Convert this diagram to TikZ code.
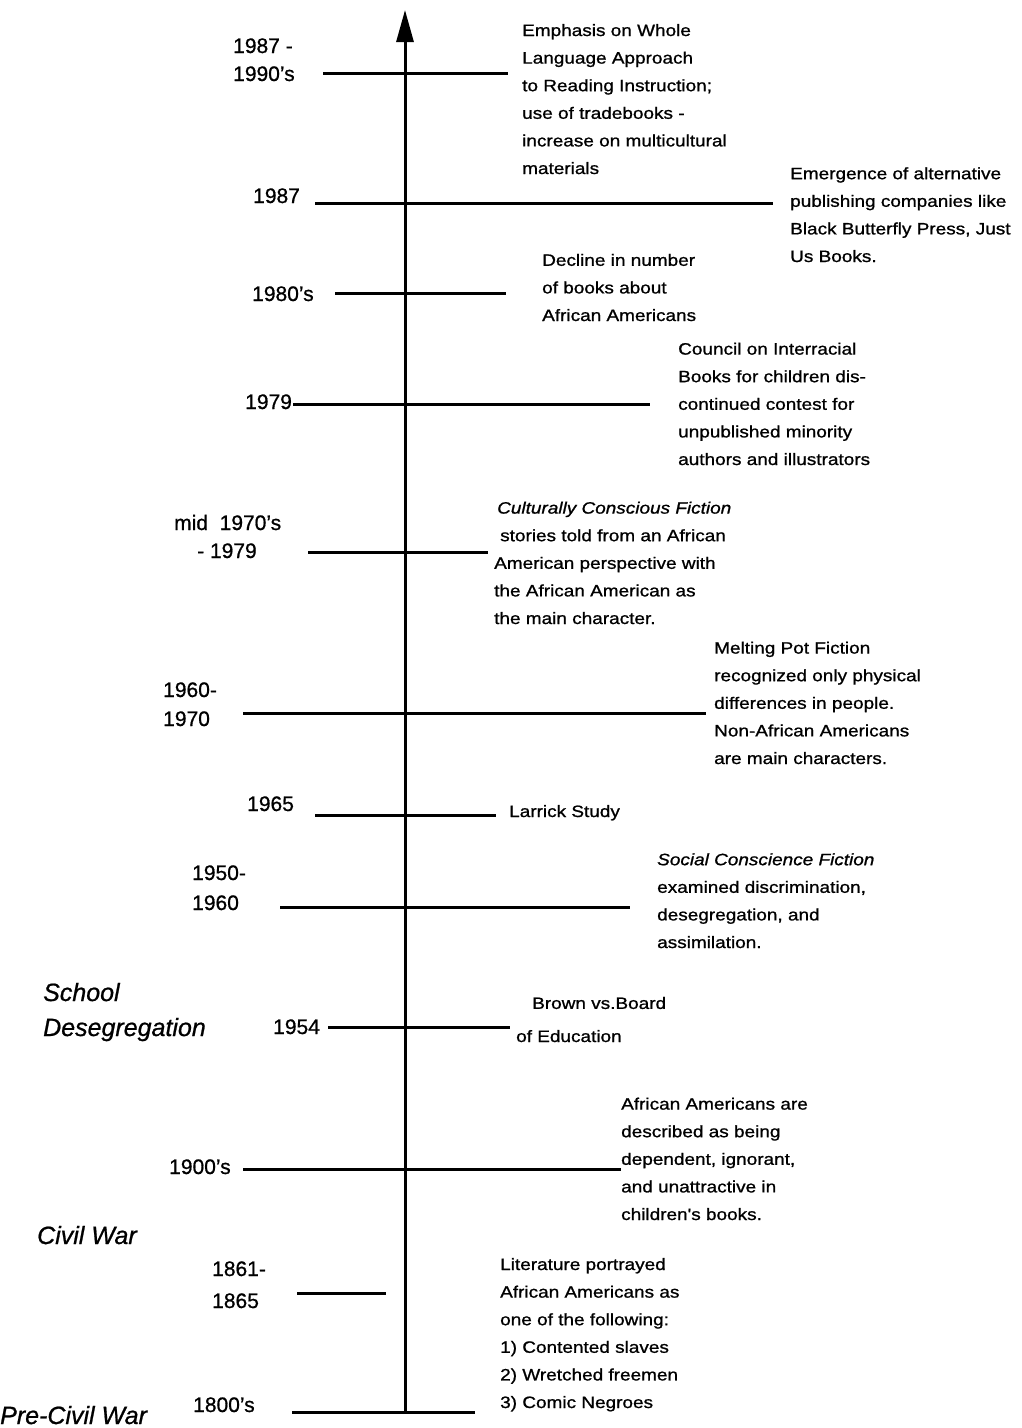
\documentclass[tikz,border=0pt]{standalone}
\usepackage{fontspec}
\setmainfont[FakeBold=0.8]{Liberation Sans}
\newfontfamily\descfam[FakeStretch=1.15, FakeBold=1]{Liberation Sans}
\usetikzlibrary{arrows.meta}

\begin{document}
\begin{tikzpicture}[x=1pt, y=-1pt,
		year/.style={anchor=base west, inner sep=0, align=left, font=\fontsize{21}{28}\selectfont},
		desc/.style={anchor=base west, inner sep=0, align=left, font=\descfam\fontsize{16.5}{27.6}\selectfont},
		era/.style={anchor=base west, inner sep=0, align=left, font=\fontsize{25}{35}\selectfont\itshape},
		tick/.style={-, line width=3}]
			% multi-line nodes sit on the baseline of their last line
			\useasboundingbox (0, 0) rectangle (1022, 1428);

			% axis
			\draw[line width=3, -{Triangle[length=32, width=17]}]
				(405, 1412) -- (405, 10);

			% 1987 - 1990's
			\node[year] (y1990) at (233, 81)
				{1987 -\\1990's};
			\draw[tick]
				(323, 73) -- (508, 73);
			\node[desc] (d1990) at (522, 174)
				{Emphasis on Whole\\Language Approach\\to Reading Instruction;\\use of tradebooks -\\increase on multicultural\\materials};

			% 1987
			\node[year] (y1987) at (253, 203)
				{1987};
			\draw[tick]
				(315, 203) -- (773, 203);
			\node[desc] (d1987) at (790, 262)
				{Emergence of alternative\\publishing companies like\\Black Butterfly Press, Just\\Us Books.};

			% 1980's
			\node[year] (y1980) at (252, 301)
				{1980's};
			\draw[tick]
				(335, 293) -- (506, 293);
			\node[desc] (d1980) at (542, 321)
				{Decline in number\\of books about\\African Americans};

			% 1979
			\node[year] (y1979) at (245, 409)
				{1979};
			\draw[tick]
				(293, 404) -- (650, 404);
			\node[desc] (d1979) at (678, 465)
				{Council on Interracial\\Books for children dis-\\continued contest for\\unpublished minority\\authors and illustrators};

			% mid 1970's - 1979
			\node[year] (y1975) at (174, 558)
				{mid\ \ 1970's\\\hspace{23pt}- 1979};
			\draw[tick]
				(308, 552) -- (488, 552);
			\node[desc] (d1975) at (494, 624)
				{\hspace{3pt}\textit{Culturally Conscious Fiction}\\\hspace{6pt}stories told from an African\\American perspective with\\the African American as\\the main character.};

			% 1960 - 1970
			\node[year] (y1960) at (163, 726)
				{1960-\\[1pt]1970};
			\draw[tick]
				(243, 713) -- (706, 713);
			\node[desc] (d1960) at (714, 764)
				{Melting Pot Fiction\\recognized only physical\\differences in people.\\Non-African Americans\\are main characters.};

			% 1965
			\node[year] (y1965) at (247, 811)
				{1965};
			\draw[tick]
				(315, 815) -- (496, 815);
			\node[desc] (d1965) at (509, 817)
				{Larrick Study};

			% 1950 - 1960
			\node[year] (y1950) at (192, 910)
				{1950-\\[2pt]1960};
			\draw[tick]
				(280, 907) -- (630, 907);
			\node[desc] (d1950) at (657, 948)
				{\textit{Social Conscience Fiction}\\examined discrimination,\\desegregation, and\\assimilation.};

			% 1954
			\node[era] (school) at (43, 1036)
				{School\\Desegregation};
			\node[year] (y1954) at (273, 1034)
				{1954};
			\draw[tick]
				(328, 1027) -- (510, 1027);
			\node[desc] (d1954) at (516, 1042)
				{\hspace{16pt}Brown vs.Board\\[5.5pt]of Education};

			% 1900's
			\node[year] (y1900) at (169, 1174)
				{1900's};
			\draw[tick]
				(243, 1169) -- (621, 1169);
			\node[desc] (d1900) at (621, 1220)
				{African Americans are\\described as being\\dependent, ignorant,\\and unattractive in\\children's books.};

			% 1861 - 1865
			\node[era] (civil) at (37, 1244)
				{Civil War};
			\node[year] (y1861) at (212, 1308)
				{1861-\\[4pt]1865};
			\draw[tick]
				(297, 1293) -- (386, 1293);

			% 1800's
			\node[era] (precivil) at (0, 1424)
				{Pre-Civil War};
			\node[year] (y1800) at (193, 1412)
				{1800's};
			\draw[tick]
				(292, 1412) -- (475, 1412);
			\node[desc] (d1800) at (500, 1408)
				{Literature portrayed\\African Americans as\\one of the following:\\1) Contented slaves\\2) Wretched freemen\\3) Comic Negroes};

		\end{tikzpicture}
\end{document}
